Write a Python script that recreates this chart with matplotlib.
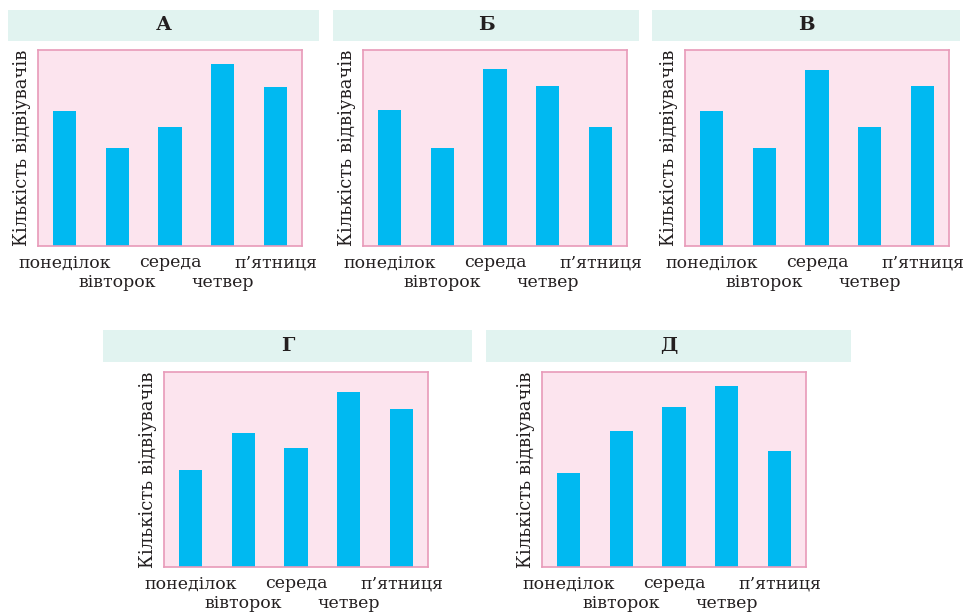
import matplotlib
matplotlib.use('Agg')
from matplotlib import pyplot as plt
from matplotlib.patches import Rectangle

plt.rcParams['font.family'] = ['DejaVu Serif']

# days of the week (mon..fri)
days = ['понеділок', 'вівторок', 'середа', 'четвер', 'п’ятниця']

# bar heights (same relative scale, 0..196)
values_a = [135, 98, 119, 182, 159]
values_b = [136, 98, 177, 160, 119]
values_v = [135, 98, 176, 119, 160]
values_g = [97, 135, 120, 176, 159]
values_d = [94, 137, 161, 182, 117]

titles = ['А', 'Б', 'В', 'Г', 'Д']
ylabel = 'Кількість відвіувачів'

W, H = 967, 613

# pixel boxes: (axes box), (header band)
layout = [
    ((38, 50, 302, 246), (8, 10, 319, 41)),
    ((363, 50, 627, 246), (333, 10, 639, 41)),
    ((685, 50, 949, 246), (652, 10, 960, 41)),
    ((164, 372, 428, 567), (103, 330, 472, 362)),
    ((542, 372, 806, 567), (486, 330, 851, 362)),
]


def px(box):
    x0, y0, x1, y1 = box
    return [x0 / W, 1 - y1 / H, (x1 - x0) / W, (y1 - y0) / H]


fig = plt.figure(figsize=(W / 100, H / 100), dpi=100)

all_values = [values_a, values_b, values_v, values_g, values_d]

for title, vals, (abox, hbox) in zip(titles, all_values, layout):
    # header band with the letter
    hx, hy, hw, hh = px(hbox)
    fig.patches.append(Rectangle((hx, hy), hw, hh, transform=fig.transFigure,
                                 facecolor='#e1f3f0', edgecolor='none', zorder=0))
    fig.text(hx + hw / 2, hy + hh / 2, title, ha='center', va='center',
             fontsize=14, fontweight='bold', color='#231f20')

    ax = fig.add_axes(px(abox))
    ax.set_facecolor('#fce4ee')
    x = list(range(len(days)))
    ax.bar(x, vals, width=0.44, color='#00b9f1')
    ax.set_xlim(-0.5, 4.5)
    ax.set_ylim(0, 196)
    ax.set_yticks([])

    # staggered day labels: even days on the first line (major ticks),
    # odd days on the second line (minor ticks)
    ax.set_xticks(x[0::2])
    ax.set_xticklabels(days[0::2], fontsize=12.5, color='#231f20')
    ax.set_xticks(x[1::2], minor=True)
    ax.set_xticklabels(days[1::2], minor=True, fontsize=12.5, color='#231f20')
    ax.tick_params(axis='x', which='major', length=0, pad=6)
    ax.tick_params(axis='x', which='minor', length=0, pad=20.5)

    for s in ax.spines.values():
        s.set_color('#e89ab9')
        s.set_linewidth(1.2)
    ax.set_ylabel(ylabel, fontsize=13, color='#231f20', labelpad=5)

fig.savefig('out.png', dpi=100)
